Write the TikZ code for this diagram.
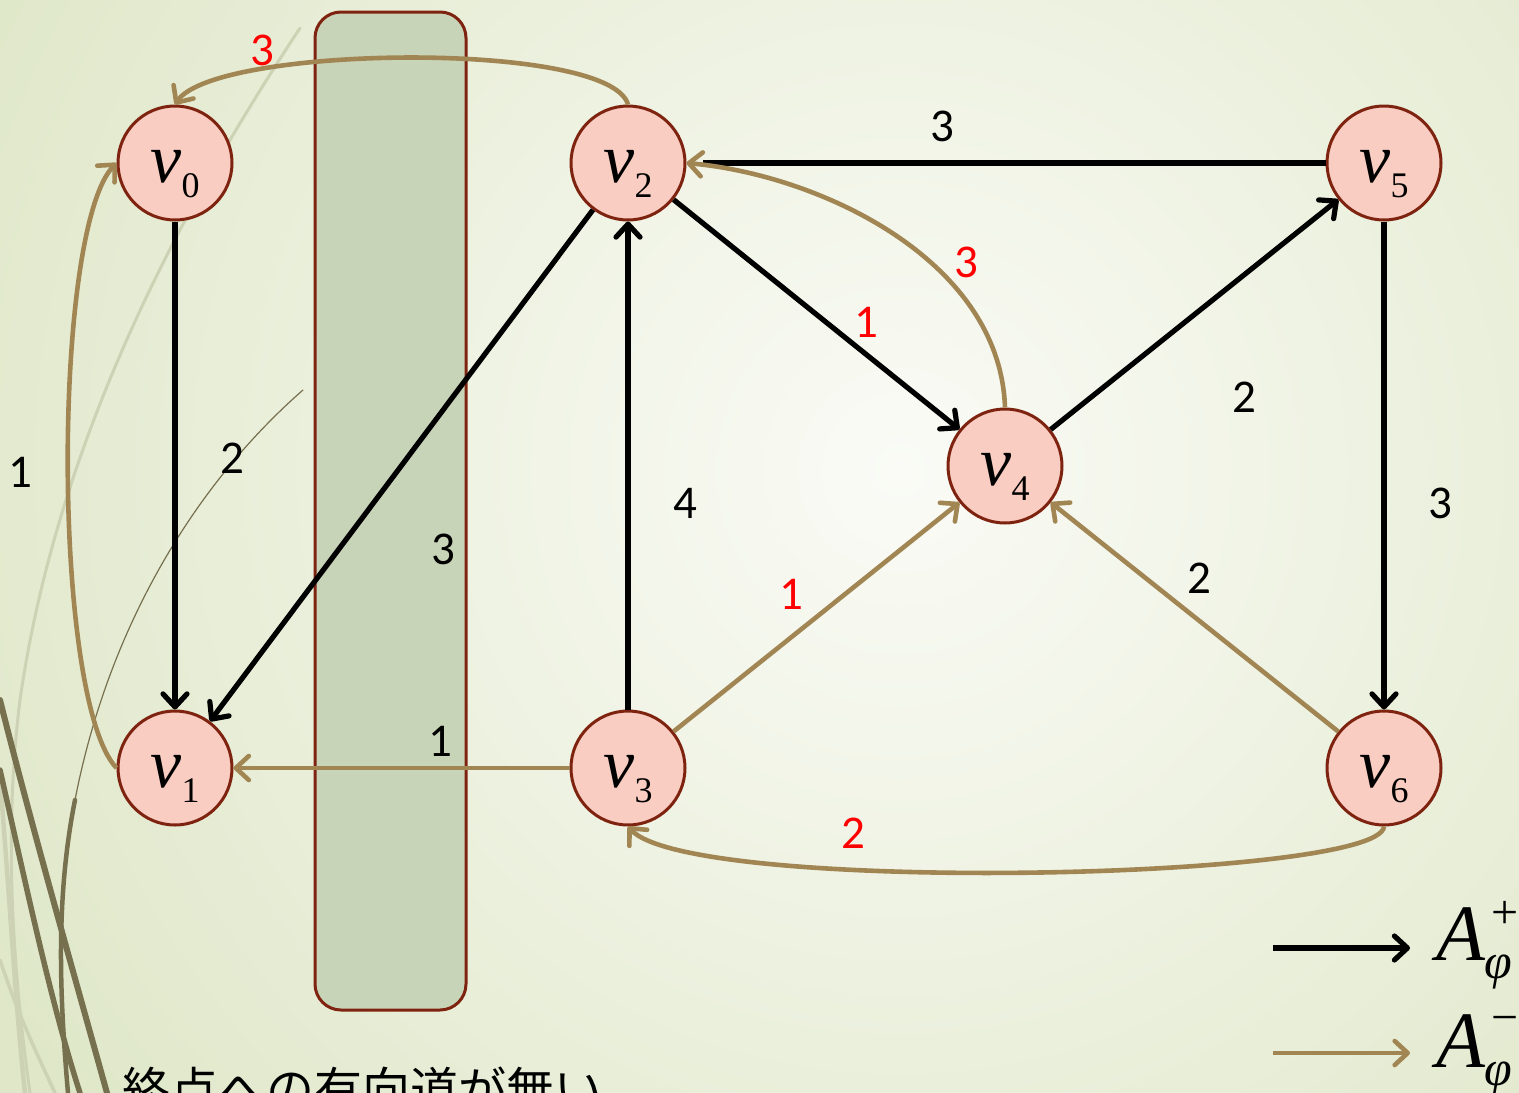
\documentclass[tikz,border=0pt]{standalone}
\usepackage{fontspec}
\setmainfont{Carlito}
\newfontfamily\tnr{Liberation Serif}
\newfontfamily\cjk{Noto Sans CJK JP}
\usetikzlibrary{arrows.meta}
\definecolor{bgin}{HTML}{FAFBF6}
\definecolor{bgout}{HTML}{DFE7C8}
\definecolor{nodefill}{HTML}{F9CDC2}
\definecolor{nodeborder}{HTML}{7F2311}
\definecolor{barfill}{HTML}{C8D4B8}
\definecolor{brn}{HTML}{A18654}
\definecolor{decodark}{HTML}{77704F}
\definecolor{decolight}{HTML}{CDD2B5}
\begin{document}
\begin{tikzpicture}[x=1pt,y=-1pt,
  >={Straight Barb[length=13pt,width=24pt,round]},
  vert/.style={circle,draw=nodeborder,line width=3pt,fill=nodefill,minimum size=114pt,inner sep=0pt,text height=50pt,text depth=12pt},
  blk/.style={draw=black,line width=5.2pt},
  brnline/.style={draw=brn,line width=4.6pt},
  lab/.style={font=\fontsize{47}{47}\selectfont,inner sep=0pt},
  redlab/.style={lab,text=red},
  bar/.style={draw=nodeborder,line width=3pt,fill=barfill,rounded corners=26pt,minimum width=151pt,minimum height=998pt,inner sep=0pt},
  decod/.style={draw=decodark,line cap=round},
  decol/.style={draw=decolight,line cap=round}]
\newcommand\vtext[1]{{\tnr\fontsize{70}{70}\selectfont\itshape v}\raisebox{-15pt}{\tnr\fontsize{36}{36}\selectfont #1}}
% background
\useasboundingbox (0,0) rectangle (1519,1093);
\begin{scope}
\clip (0,0) rectangle (1519,1093);
\fill[bgout] (0,0) rectangle (1519,1093);
\shade[inner color=bgin,outer color=bgout] (900,470) circle (1050);
% decorative theme lines
\draw[decol,line width=3pt] (300,28) .. controls (200,180) and (60,420) .. (20,700) .. controls (5,820) and (10,950) .. (30,1093);
\draw[decol,line width=4.5pt] (0,780) .. controls (10,900) and (15,1000) .. (25,1093);
\draw[decol,line width=3.5pt] (0,960) .. controls (20,1020) and (40,1060) .. (55,1093);
\draw[decod,line width=1.2pt] (303,390) .. controls (200,480) and (110,620) .. (75,800);
\draw[decod,line width=4.5pt] (75,800) .. controls (55,900) and (60,1000) .. (68,1093);
\draw[decod,line width=6pt] (0,700) .. controls (30,820) and (70,960) .. (107,1093);
\draw[decod,line width=5.5pt] (0,770) .. controls (25,880) and (50,1000) .. (80,1093);
\end{scope}
% bar
\node[bar] (bar) at (390.5,511) {};
% vertices
\node[vert] (v0) at (175,163) {\vtext{0}};
\node[vert] (v1) at (175,768) {\vtext{1}};
\node[vert] (v2) at (628,163) {\vtext{2}};
\node[vert] (v3) at (628,768) {\vtext{3}};
\node[vert] (v4) at (1005,466) {\vtext{4}};
\node[vert] (v5) at (1384,163) {\vtext{5}};
\node[vert] (v6) at (1384,768) {\vtext{6}};
% black edges
\draw[blk,->] (v0) -- (v1);
\draw[blk,->] (v2) -- (v1);
\draw[blk,->] (v3) -- (v2);
\draw[blk,->] (v2) -- (v4);
\draw[blk,->] (v4) -- (v5);
\draw[blk,->] (v5) -- (v6);
\draw[blk] (v5.west) -- ([xshift=16pt]v2.east);
% brown edges
\draw[brnline,->] (v1.west) .. controls (52,700) and (52,230) .. (v0.west);
\draw[brnline,->] (v2.north) .. controls (610,40) and (215,45) .. (v0.north);
\draw[brnline,->] (v3) -- (v1);
\draw[brnline,->] (v3) -- (v4);
\draw[brnline,->] (v6) -- (v4);
\draw[brnline,->] (v4.north) .. controls (1000,260) and (820,175) .. (v2.east);
\draw[brnline,->] (v6.south) .. controls (1380,880) and (690,895) .. (v3.south);
% labels
\node[lab] (w01) at (232,458) {2};
\node[lab] (w21) at (443,549) {3};
\node[lab] (w32) at (685,503) {4};
\node[redlab] (w24) at (866,322) {1};
\node[lab] (w52) at (942,126) {3};
\node[lab] (w45) at (1244,397) {2};
\node[lab] (w56) at (1440,503) {3};
\node[lab] (w10) at (20,472) {1};
\node[redlab] (w20) at (262,50) {3};
\node[lab] (w31) at (440,741) {1};
\node[redlab] (w34) at (791,594) {1};
\node[lab] (w64) at (1199,578) {2};
\node[redlab] (w42) at (966,262) {3};
\node[redlab] (w63) at (853,833) {2};
% legend
\coordinate (la1) at (1273,948);
\coordinate (la2) at (1410,948);
\coordinate (lb1) at (1273,1053);
\coordinate (lb2) at (1410,1053);
\draw[blk,->] (la1) -- (la2);
\draw[brnline,->] (lb1) -- (lb2);
\node[anchor=base west,inner sep=0pt] (lgA) at (1436,960) {\tnr\itshape\fontsize{80}{80}\selectfont A};
\node[anchor=base west,inner sep=0pt] (lgAp) at (1491,928) {\tnr\fontsize{48}{48}\selectfont +};
\node[anchor=base west,inner sep=0pt] (lgAf) at (1484,978) {\tnr\itshape\fontsize{50}{50}\selectfont φ};
\node[anchor=base west,inner sep=0pt] (lgB) at (1436,1067) {\tnr\itshape\fontsize{80}{80}\selectfont A};
\node[anchor=base west,inner sep=0pt] (lgBm) at (1491,1033) {\tnr\fontsize{48}{48}\selectfont −};
\node[anchor=base west,inner sep=0pt] (lgBf) at (1484,1085) {\tnr\itshape\fontsize{50}{50}\selectfont φ};
% bottom text (cut off by the lower edge, as in the reference)
\node[anchor=base west,inner sep=0pt] (note) at (122,1107) {\cjk\fontsize{48}{48}\selectfont 終点への有向道が無い};
\end{tikzpicture}
\end{document}
